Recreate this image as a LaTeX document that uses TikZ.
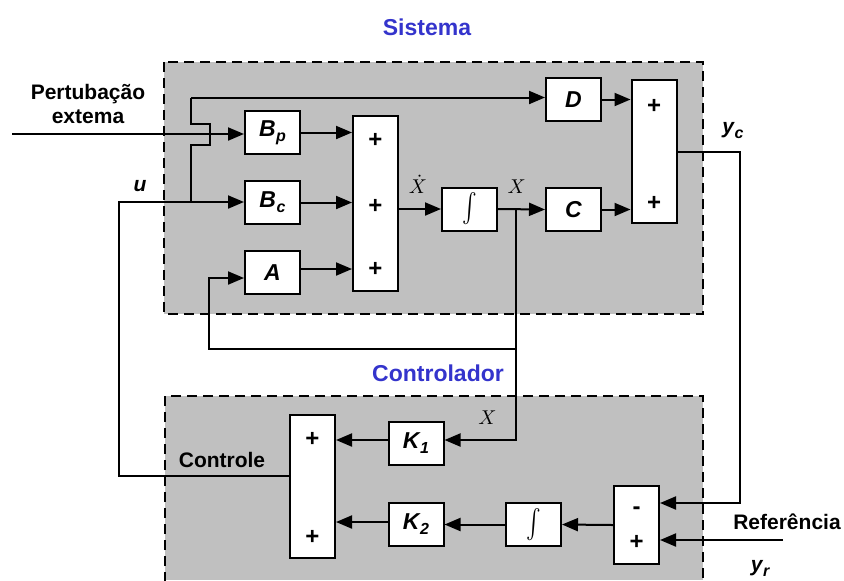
\documentclass[tikz,border=0pt]{standalone}
\usepackage{fontspec}
\setmainfont{Liberation Sans}
\usepackage{xcolor}
\definecolor{sysGray}{HTML}{C0C0C0}
\definecolor{sysBlue}{HTML}{3434CC}
\usetikzlibrary{arrows.meta}

\newcommand{\blksub}[2]{#1\kern0.3pt\raisebox{-2.5pt}{\fontsize{8}{9}\selectfont #2}}
\newcommand{\intsign}{\scalebox{1.1}[1.45]{$\int$}}

\tikzset{
  blk/.style={draw, fill=white, line width=1pt, minimum width=27.5pt, minimum height=21.5pt,
    inner sep=0pt, font=\bfseries\itshape\fontsize{11.5}{12}\selectfont},
  sumblk/.style={draw, fill=white, line width=1pt, minimum width=22.5pt, inner sep=0pt},
  sgn/.style={font=\bfseries\fontsize{12}{12}\selectfont, inner sep=0pt},
  lbl/.style={font=\bfseries\fontsize{10.5}{12}\selectfont, align=center, inner sep=0pt},
  ttl/.style={lbl, text=sysBlue, font=\bfseries\fontsize{11.5}{13}\selectfont},
  sig/.style={line width=1pt, -{Triangle[length=8pt,width=6.5pt]}},
  wire/.style={line width=1pt},
  region/.style={line width=1pt, dash pattern=on 5pt off 3pt}
}

\begin{document}
\begin{tikzpicture}[x=0.5pt, y=-0.5pt]
  \useasboundingbox (0,0) rectangle (844,580);
  % ---- regions ----
  \fill[sysGray] (164,62) rectangle (703,314);
  \draw[region] (164,62) rectangle (703,314);
  \fill[sysGray] (165,396) rectangle (703,580);
  \draw[region] (165,582) -- (165,396) -- (703,396) -- (703,582);
  \node[ttl] (tSis) at (427,27) {Sistema};
  \node[ttl] (tCon) at (438,373) {Controlador};

  % ---- system blocks ----
  \node[blk] (Bp) at (272.5,132.5) {\blksub{B}{p}};
  \node[blk] (Bc) at (272.5,202.5) {\blksub{B}{c}};
  \node[blk] (A)  at (272.5,272.5) {A};
  \node[sumblk, minimum height=87.5pt] (S1) at (375.5,203.5) {};
  \node[sgn] at (375.5,140) {+};
  \node[sgn] at (375.5,206) {+};
  \node[sgn] at (375.5,269) {+};
  \node[blk] (I1) at (469.5,209) {\intsign};
  \node[blk] (C)  at (573.5,209.5) {C};
  \node[blk] (D)  at (573.5,99.5) {D};
  \node[sumblk, minimum height=71.5pt] (S2) at (654,151.5) {};
  \node[sgn] at (654,106) {+};
  \node[sgn] at (654,203) {+};

  % ---- controller blocks ----
  \node[sumblk, minimum height=71.5pt] (S3) at (312.5,486.5) {};
  \node[sgn] at (312.5,439) {+};
  \node[sgn] at (312.5,537) {+};
  \node[blk] (K1) at (416,443) {\blksub{K}{1}};
  \node[blk] (K2) at (416,524.5) {\blksub{K}{2}};
  \node[blk] (I2) at (533.5,524.5) {\intsign};
  \node[sumblk, minimum height=39pt] (S4) at (636.5,525) {};
  \node[sgn] at (636.5,511) {-};
  \node[sgn] at (636.5,542) {+};

  % ---- free ends ----
  \coordinate (pIn) at (12,134);
  \coordinate (rIn) at (783,540);
  \coordinate (uJ) at (191,202);
  \coordinate (xJ) at (516,209);

  % ---- signals ----
  \draw[sig] (pIn) -- (pIn -| Bp.west);
  \draw[sig] (S3.west |- 0,476) -- (119,476) -- (119,202) -- (Bc.west |- 0,202);
  \draw[wire] (uJ) -- (191,145) -- (210,145) -- (210,124) -- (191,124) -- (191,97.5);
  \draw[sig] (191,97.5) -- (D.west |- 0,97.5);
  \draw[sig] (Bp.east) -- (Bp.east -| S1.west);
  \draw[sig] (Bc.east) -- (Bc.east -| S1.west);
  \draw[sig] (A.east |- 0,269) -- (S1.west |- 0,269);
  \draw[sig] (S1.east |- I1.west) -- (I1.west) node[pos=0.45, above=4pt] {$\dot{X}$};
  \draw[sig] (I1.east) -- (C.west) node[pos=0.4, above=4pt] {$X$};
  \draw[sig] (C.east) -- (C.east -| S2.west);
  \draw[sig] (D.east) -- (D.east -| S2.west);
  \draw[sig] (xJ) -- (516,349) -- (209,349) -- (209,278) -- (A.west |- 0,278);
  \draw[sig] (516,349) -- (516,440) -- (K1.east |- 0,440) node[pos=0.4, above=4pt] {$X$};
  \draw[sig] (S2.east |- 0,152) -- (740,152) -- (740,503) -- (S4.east |- 0,503);
  \draw[sig] (rIn) -- (rIn -| S4.east);
  \draw[sig] (S4.west) -- (I2.east);
  \draw[sig] (I2.west) -- (K2.east);
  \draw[sig] (K2.west |- 0,522) -- (S3.east |- 0,522);
  \draw[sig] (K1.west |- 0,440) -- (S3.east |- 0,440);

  % ---- labels ----
  \node[lbl] (tPert) at (88,104) {Pertuba\c{c}\~ao\\extema};
  \node[lbl] (tU) at (140,186) {\itshape u};
  \node[lbl] (tYc) at (733,131) {\itshape\blksub{y}{c}};
  \node[lbl] (tCtl) at (222,460) {Controle};
  \node[lbl] (tRef) at (787,522) {Refer\^encia};
  \node[lbl] (tYr) at (760,568) {\itshape\blksub{y}{r}};
\end{tikzpicture}
\end{document}
